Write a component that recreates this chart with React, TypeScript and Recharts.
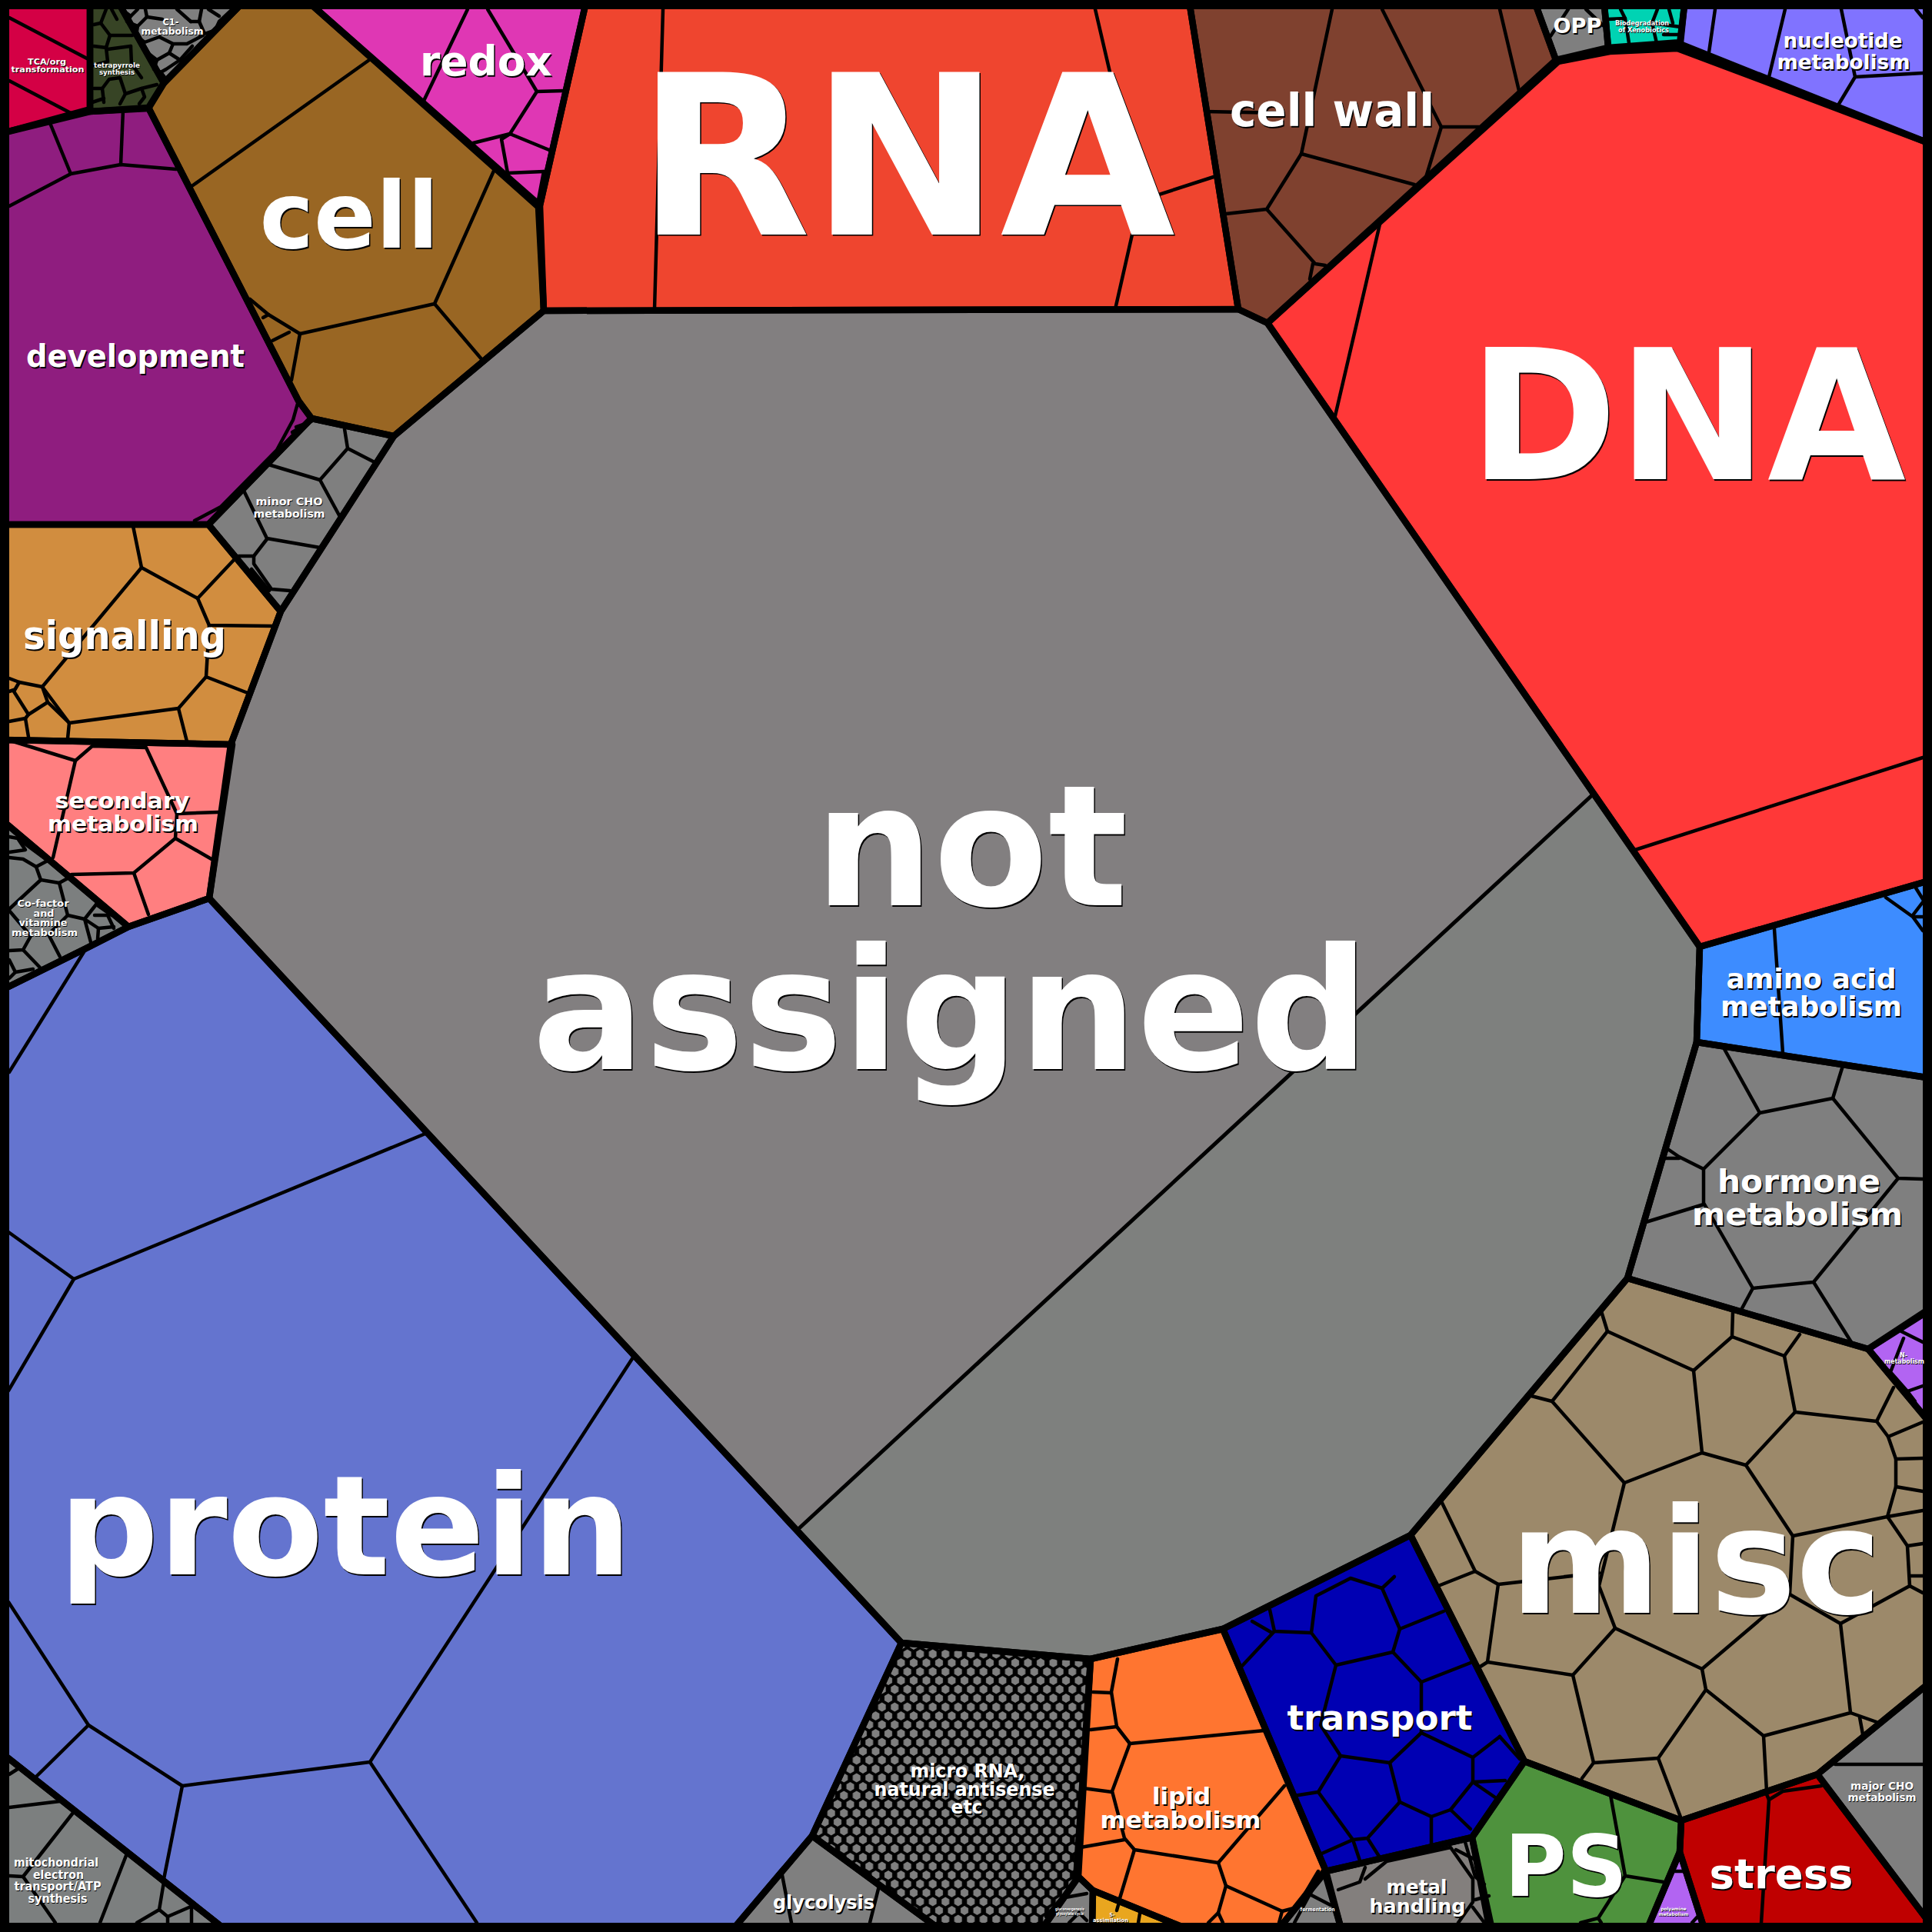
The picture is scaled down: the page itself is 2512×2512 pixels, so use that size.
import { Scatter, ScatterChart, XAxis, YAxis } from "recharts"

const notAssignedCell = [707,404, 1610,402, 1648,420, 2210,1231, 2206,1355, 2116,1662, 1834,1996, 1590,2118, 1418,2157, 1172,2136, 272,1168, 300,968, 365,795, 512,567]
const notAssignedLower = [2071,1033, 2210,1231, 2206,1355, 2116,1662, 1834,1996, 1590,2118, 1418,2157, 1172,2136, 1038,1988]
const notAssignedWalls = [[2071,1033, 1038,1988]]

const proteinCell = [272,1168, 1172,2136, 1056,2387, 956,2500, 288,2500, 12,2283, 12,1285, 112,1233, 167,1205]
const proteinWalls = [
  [553,1474, 96,1663], [96,1663, 11,1602], [96,1663, 11,1808],
  [825,1762, 481,2291, 237,2322, 115,2243, 11,2083],
  [481,2291, 620,2500], [237,2322, 213,2443], [115,2243, 47,2310], [112,1233, 12,1394],
]

const tcaCell = [12,12, 117,12, 117,142, 12,172]
const tcaWalls = [[12,23, 113,76], [12,105, 92,147]]

const tetrapyrroleCell = [117,12, 156,12, 213,108, 193,141, 117,145]
const tetrapyrroleWalls = [
  [138,12, 131,30, 122,32], [145,12, 152,25], [131,30, 143,46, 138,62, 122,60], [143,46, 172,46],
  [138,62, 140,80, 122,85], [170,60, 171,83, 184,101], [140,64, 170,60], [156,101, 142,103, 133,115, 135,133],
  [156,101, 163,122, 184,115, 204,110], [163,122, 156,135], [133,115, 122,115], [184,115, 188,126, 181,135], [135,128, 120,133],
]

const c1Cell = [156,12, 312,12, 213,108]
const c1Walls = [
  [158,12, 170,21, 179,12], [170,21, 165,28, 179,34, 177,46], [179,34, 191,22, 211,25], [191,22, 189,12],
  [177,46, 188,55, 207,48, 225,57, 243,57, 264,46], [225,57, 220,69, 204,78, 186,64], [220,69, 234,78, 250,60],
  [204,78, 200,90, 209,94, 216,103], [234,78, 216,90, 209,94], [248,28, 259,28, 262,12], [230,12, 248,28],
  [259,28, 266,44, 280,39, 285,28, 300,14], [271,12, 285,21],
]

const cellCell = [312,12, 406,12, 700,269, 707,404, 512,567, 405,544, 388,521, 193,140, 213,108]
const cellWalls = [
  [480,78, 248,243], [643,220, 565,395, 390,434, 349,409, 325,389], [565,395, 627,468],
  [390,434, 379,494], [349,409, 342,413], [376,432, 354,443],
]

const developmentCell = [12,172, 117,145, 193,140, 388,521, 405,544, 271,682, 12,682]
const developmentWalls = [
  [388,521, 381,546, 360,585, 287,659, 253,677], [12,268, 92,226, 157,214, 229,220],
  [65,160, 92,226], [157,214, 160,143], [385,555, 405,548], [380,562, 392,555],
]

const signallingCell = [12,682, 271,682, 365,795, 300,968, 12,962]
const signallingWalls = [
  [173,684, 184,738, 257,778], [184,738, 55,893], [305,727, 257,778, 272,813, 355,814], [272,813, 268,880, 322,901],
  [268,880, 232,921, 90,940, 55,893], [232,921, 243,964], [90,940, 88,960], [55,893, 25,887, 12,882],
  [55,893, 62,913, 37,929, 18,899, 25,887], [12,899, 18,897], [37,929, 33,934, 12,938], [33,934, 37,958], [62,913, 90,940],
]

const secondaryCell = [12,962, 302,968, 272,1168, 167,1205, 12,1070]
const secondaryWalls = [
  [17,964, 98,989, 120,970, 190,972, 230,1058, 284,1056], [98,989, 69,1115], [230,1058, 228,1090, 275,1117],
  [228,1090, 174,1135, 93,1137], [174,1135, 193,1189],
]

const cofactorCell = [12,1070, 167,1205, 112,1233, 12,1285]
const cofactorWalls = [
  [12,1115, 30,1117, 47,1127, 53,1144, 12,1182], [53,1144, 77,1148, 88,1142], [77,1148, 88,1190, 110,1195, 125,1176],
  [88,1190, 63,1215, 78,1244], [12,1184, 40,1217, 30,1235, 12,1236], [30,1235, 52,1258], [110,1195, 118,1225],
  [12,1088, 23,1090, 33,1105, 12,1108], [23,1090, 43,1105, 62,1119], [47,1127, 62,1119], [125,1176, 145,1190],
  [123,1190, 140,1190, 148,1207], [128,1207, 127,1221], [113,1197, 128,1207, 148,1205], [12,1248, 20,1264, 12,1272], [20,1264, 43,1260],
]

const minorChoCell = [405,544, 512,567, 365,795, 271,682]
const minorChoWalls = [
  [448,558, 452,583, 416,624, 349,604], [452,583, 487,601], [416,624, 441,670], [317,638, 347,700, 416,712],
  [347,701, 330,723, 310,723], [330,723, 330,733, 353,766, 377,768], [327,740, 350,768],
]

const redoxCell = [406,12, 761,12, 702,267]
const redoxWalls = [
  [608,12, 551,131], [634,12, 698,119, 733,118], [698,119, 663,174, 615,186], [663,174, 652,181, 660,225, 707,223],
  [663,174, 714,195], [707,223, 700,260],
]

const rnaCell = [761,12, 1547,12, 1610,402, 707,404, 702,267]
const rnaWalls = [[862,12, 851,402], [1424,12, 1482,261, 1450,402], [1482,261, 1581,229]]

const cellWallCell = [1547,12, 1997,12, 2023,78, 1648,420, 1610,402]
const cellWallWalls = [
  [1732,12, 1692,200], [1797,12, 1874,165, 1923,165], [1950,12, 1975,118], [1874,165, 1852,237], [1568,145, 1668,147],
  [1692,200, 1839,240], [1692,200, 1647,272, 1594,278], [1647,272, 1710,343, 1723,345], [1707,343, 1703,363],
]

const oppCell = [1997,12, 2086,12, 2091,62, 2023,78]
const oppWalls = [[2039,12, 2016,47], [2062,12, 2084,33]]

const biodegradationCell = [2086,12, 2190,12, 2185,55, 2091,62]
const biodegradationWalls = [
  [2107,12, 2113,24, 2118,56], [2155,12, 2148,30, 2154,56], [2148,30, 2185,35], [2163,45, 2185,45], [2090,25, 2113,24], [2170,12, 2175,30],
]

const nucleotideCell = [2190,12, 2500,12, 2500,185, 2184,57]
const nucleotideWalls = [[2230,12, 2222,68], [2321,12, 2300,100], [2394,12, 2412,100, 2391,135], [2412,100, 2500,95], [2491,12, 2500,23]]

const dnaCell = [1648,420, 2026,80, 2093,67, 2181,63, 2500,185, 2500,1146, 2210,1231]
const dnaWalls = [[1796,283, 1735,545], [2126,1105, 2500,985]]

const aminoCell = [2210,1231, 2500,1146, 2500,1401, 2206,1355]
const aminoWalls = [
  [2307,1208, 2318,1369], [2452,1167, 2487,1192, 2500,1210], [2487,1190, 2500,1173], [2490,1153, 2500,1169], [2490,1192, 2500,1192],
]

const hormoneCell = [2206,1355, 2500,1401, 2500,1704, 2429,1754, 2116,1662]
const hormoneWalls = [
  [2242,1364, 2288,1447, 2383,1428, 2395,1389], [2383,1428, 2468,1532, 2500,1533], [2468,1532, 2358,1667, 2279,1675, 2215,1564, 2215,1520, 2288,1447],
  [2215,1520, 2183,1504, 2167,1493], [2183,1506, 2163,1506], [2215,1566, 2140,1589], [2279,1675, 2265,1701], [2358,1667, 2407,1745],
]

const nMetabolismCell = [2429,1754, 2500,1706, 2500,1845]
const nMetabolismWalls = [[2472,1731, 2500,1745], [2475,1740, 2458,1784, 2480,1809, 2500,1802], [2480,1809, 2490,1822]]

const miscCell = [2116,1662, 2429,1754, 2500,1845, 2500,2191, 2363,2307, 2186,2367, 1982,2290, 1834,1996]
const miscWalls = [
  [2082,1705, 2090,1731, 2202,1782, 2252,1738, 2253,1705], [2252,1738, 2320,1763, 2340,1735], [2320,1763, 2334,1836, 2440,1848, 2462,1804],
  [2090,1731, 2018,1822, 1991,1815], [2018,1822, 2112,1928, 2213,1889, 2270,1905, 2334,1836], [2202,1782, 2213,1889],
  [1873,1950, 1918,2043, 1870,2062], [1918,2043, 1948,2060, 2079,2045], [2112,1928, 2079,2062, 2100,2117], [2270,1905, 2331,1997, 2454,1972],
  [2440,1848, 2455,1868, 2465,1897, 2465,1933, 2454,1972], [2455,1868, 2500,1849], [2465,1897, 2500,1896], [2465,1933, 2500,1939], [2454,1972, 2500,1964],
  [2454,1972, 2480,2010, 2483,2062, 2393,2111, 2327,2073, 2213,2170, 2100,2117], [2480,2010, 2500,2007], [2483,2049, 2500,2049], [2483,2062, 2500,2071],
  [2331,1997, 2327,2073], [2213,2170, 2218,2197, 2293,2257, 2406,2227, 2393,2111], [2406,2227, 2440,2239], [2418,2233, 2422,2255], [2293,2257, 2297,2329],
  [2218,2197, 2156,2286, 2186,2365], [2156,2286, 2072,2292, 2057,2312], [2072,2292, 2045,2178, 2100,2117], [2045,2178, 1934,2161, 1948,2060], [1934,2161, 1923,2168],
]

const majorChoCell = [2363,2307, 2500,2191, 2500,2495]
const majorChoWalls = [[2386,2294, 2500,2294]]

const stressCell = [2186,2367, 2363,2307, 2500,2495, 2500,2500, 2215,2500, 2184,2408]
const stressWalls = [[2300,2340, 2290,2500], [2297,2333, 2300,2340, 2318,2329, 2368,2322]]

const psCell = [1982,2290, 2186,2367, 2184,2408, 2143,2500, 1936,2500, 1914,2389]
const psWalls = [[2094,2334, 2113,2439, 2163,2447], [2113,2439, 2078,2494, 2082,2500], [2078,2494, 2055,2500]]

const polyamineCell = [2184,2408, 2215,2500, 2143,2500]
const polyamineWalls = [[2177,2433, 2189,2433], [2200,2500, 2209,2490]]

const transportCell = [1834,1996, 1982,2290, 1914,2389, 1724,2433, 1590,2118]
const transportWalls = [
  [1651,2093, 1657,2121, 1705,2123, 1711,2075, 1756,2052, 1797,2065, 1820,2118, 1811,2148, 1737,2165, 1705,2123], [1797,2065, 1813,2050],
  [1628,2108, 1654,2123], [1657,2121, 1615,2166], [1820,2118, 1877,2095], [1811,2148, 1848,2187, 1912,2162], [1848,2187, 1848,2253],
  [1737,2165, 1717,2243, 1743,2283, 1807,2292, 1848,2253, 1915,2285, 1950,2258], [1743,2283, 1714,2330, 1682,2335], [1915,2285, 1915,2317, 1957,2315],
  [1915,2317, 1944,2337], [1807,2292, 1820,2343, 1861,2362, 1886,2353, 1915,2317], [1886,2353, 1912,2378], [1861,2362, 1861,2397],
  [1820,2343, 1778,2390, 1759,2392, 1714,2330], [1759,2392, 1714,2412], [1759,2392, 1769,2422], [1778,2390, 1794,2415], [1950,2258, 1976,2287],
]

const metalCell = [1724,2433, 1914,2389, 1939,2500, 1743,2500]
const metalWalls = [
  [1740,2457, 1768,2447, 1775,2428], [1775,2443, 1803,2420, 1886,2402, 1915,2443, 1915,2473, 1896,2500],
  [1905,2395, 1918,2440, 1930,2450], [1918,2470, 1936,2465], [1915,2480, 1930,2500], [1893,2405, 1922,2420],
]

const fermentationCell = [1722,2433, 1743,2500, 1665,2500]
const fermentationWalls = [[1683,2500, 1703,2463, 1730,2477], [1703,2463, 1717,2440]]

const lipidCell = [1418,2157, 1590,2118, 1724,2433, 1665,2500, 1536,2500, 1421,2458, 1402,2440]
const lipidWalls = [
  [1453,2157, 1445,2200, 1452,2245, 1469,2267, 1644,2250], [1421,2200, 1445,2201], [1418,2249, 1452,2245],
  [1469,2267, 1446,2329, 1462,2390, 1475,2405, 1584,2422, 1670,2322], [1408,2325, 1446,2330], [1405,2402, 1462,2392],
  [1475,2405, 1456,2468], [1584,2422, 1594,2452, 1667,2485, 1663,2500], [1594,2452, 1584,2487, 1571,2500], [1584,2487, 1590,2500], [1667,2485, 1686,2480, 1714,2433],
]

const sulfurCell = [1421,2458, 1536,2500, 1420,2500]
const sulfurWalls = [[1482,2488, 1480,2500], [1456,2470, 1452,2484]]

const gluconeoCell = [1402,2440, 1421,2458, 1420,2500, 1357,2500]
const gluconeoWalls = [[1398,2448, 1380,2468, 1413,2462], [1380,2468, 1360,2492], [1390,2500, 1403,2487, 1413,2497]]

const microRnaCell = [1172,2136, 1418,2157, 1399,2445, 1357,2500, 1217,2500, 1056,2387]
const glycolysisCell = [1056,2387, 1217,2500, 956,2500]
const glycolysisWalls = [[1016,2433, 1029,2500], [1143,2452, 1131,2500]]

const mitochondrialCell = [12,2283, 288,2500, 12,2500]
const mitochondrialWalls = [
  [12,2307, 23,2300], [12,2350, 78,2342], [95,2357, 30,2440], [12,2439, 30,2440], [30,2440, 72,2500], [165,2410, 130,2500],
  [213,2447, 207,2483, 178,2500], [207,2483, 218,2492, 248,2479], [218,2492, 218,2500], [249,2479, 249,2500],
]

const frameLine = [6,6, 2506,6, 2506,2506, 6,2506]

// text, centre x, baseline y, measured width, font size
const labelRows: [string, number, number, number, number][] = [
  ["not", 1263, 1177, 407, 220], ["assigned", 1236, 1390, 1088, 220],
  ["RNA", 1178, 305, 700, 290], ["DNA", 2194, 623, 568, 235], ["protein", 449, 2047, 745, 180], ["misc", 2205, 2097, 483, 190],
  ["cell", 454, 322, 233, 120], ["redox", 632, 98, 172, 53], ["development", 176, 477, 284, 40],
  ["TCA/org", 61, 84, 50, 11], ["transformation", 62, 94, 95, 11],
  ["tetrapyrrole", 152, 88, 60, 9], ["synthesis", 152, 97, 46, 9],
  ["C1-", 222, 33, 21, 12], ["metabolism", 224, 45, 81, 12],
  ["minor CHO", 376, 657, 87, 14], ["metabolism", 376, 673, 93, 14],
  ["signalling", 162, 844, 264, 52],
  ["secondary", 159, 1051, 175, 29], ["metabolism", 160, 1081, 196, 29],
  ["Co-factor", 56, 1179, 67, 13], ["and", 57, 1192, 27, 13], ["vitamine", 56, 1204, 63, 13], ["metabolism", 58, 1217, 86, 13],
  ["cell wall", 1732, 164, 266, 58], ["OPP", 2051, 43, 63, 27],
  ["Biodegradation", 2135, 33, 70, 9], ["of Xenobiotics", 2137, 42, 66, 9],
  ["nucleotide", 2396, 62, 155, 26], ["metabolism", 2397, 90, 173, 26],
  ["amino acid", 2355, 1285, 221, 35], ["metabolism", 2355, 1321, 236, 35],
  ["hormone", 2339, 1550, 212, 41], ["metabolism", 2337, 1593, 274, 41],
  ["N-", 2475, 1765, 10, 8], ["metabolism", 2476, 1773, 52, 8],
  ["major CHO", 2447, 2327, 82, 14], ["metabolism", 2447, 2342, 89, 14],
  ["stress", 2316, 2455, 187, 54], ["PS", 2036, 2465, 160, 110],
  ["polyamine", 2176, 2484, 33, 6], ["metabolism", 2176, 2491, 39, 6],
  ["metal", 1842, 2462, 79, 25], ["handling", 1843, 2487, 125, 25],
  ["transport", 1794, 2249, 241, 44],
  ["lipid", 1536, 2346, 76, 31], ["metabolism", 1535, 2377, 209, 31],
  ["micro RNA,", 1258, 2311, 149, 25], ["natural antisense", 1254, 2335, 235, 25], ["etc", 1257, 2358, 41, 25],
  ["glycolysis", 1071, 2482, 132, 25], ["fermentation", 1713, 2485, 45, 7],
  ["gluconeogenesis", 1391, 2484, 38, 5.5], ["glyoxylate cycle", 1391, 2490, 36, 5.5],
  ["S-", 1446, 2492, 7, 7], ["assimilation", 1444, 2499, 46, 7],
  ["mitochondrial", 73, 2427, 110, 16], ["electron", 76, 2443, 66, 16], ["transport/ATP", 75, 2458, 113, 16], ["synthesis", 75, 2474, 77, 16],
]

const GREY = "#7f7f7f"
const groups: { name: string; color: string; cell: number[]; walls: number[][] }[] = [
  { name: "not assigned", color: "#827f80", cell: notAssignedCell, walls: [] },
  { name: "not assigned lower", color: "#7e807e", cell: notAssignedLower, walls: notAssignedWalls },
  { name: "protein", color: "#6474cf", cell: proteinCell, walls: proteinWalls },
  { name: "TCA", color: "#d40045", cell: tcaCell, walls: tcaWalls },
  { name: "tetrapyrrole", color: "#374425", cell: tetrapyrroleCell, walls: tetrapyrroleWalls },
  { name: "C1", color: GREY, cell: c1Cell, walls: c1Walls },
  { name: "cell", color: "#996623", cell: cellCell, walls: cellWalls },
  { name: "development", color: "#8f1d7f", cell: developmentCell, walls: developmentWalls },
  { name: "signalling", color: "#d18d3f", cell: signallingCell, walls: signallingWalls },
  { name: "secondary", color: "#ff7f80", cell: secondaryCell, walls: secondaryWalls },
  { name: "cofactor", color: "#7c7f7f", cell: cofactorCell, walls: cofactorWalls },
  { name: "minor CHO", color: GREY, cell: minorChoCell, walls: minorChoWalls },
  { name: "redox", color: "#df37b4", cell: redoxCell, walls: redoxWalls },
  { name: "RNA", color: "#ef452f", cell: rnaCell, walls: rnaWalls },
  { name: "cell wall", color: "#7f412f", cell: cellWallCell, walls: cellWallWalls },
  { name: "OPP", color: GREY, cell: oppCell, walls: oppWalls },
  { name: "biodegradation", color: "#00d3b3", cell: biodegradationCell, walls: biodegradationWalls },
  { name: "nucleotide", color: "#8073ff", cell: nucleotideCell, walls: nucleotideWalls },
  { name: "DNA", color: "#ff3838", cell: dnaCell, walls: dnaWalls },
  { name: "amino acid", color: "#3d8cff", cell: aminoCell, walls: aminoWalls },
  { name: "hormone", color: GREY, cell: hormoneCell, walls: hormoneWalls },
  { name: "N", color: "#b264f2", cell: nMetabolismCell, walls: nMetabolismWalls },
  { name: "misc", color: "#9c896a", cell: miscCell, walls: miscWalls },
  { name: "major CHO", color: GREY, cell: majorChoCell, walls: majorChoWalls },
  { name: "stress", color: "#bf0000", cell: stressCell, walls: stressWalls },
  { name: "PS", color: "#4e923d", cell: psCell, walls: psWalls },
  { name: "polyamine", color: "#b264f2", cell: polyamineCell, walls: polyamineWalls },
  { name: "transport", color: "#0000b3", cell: transportCell, walls: transportWalls },
  { name: "metal", color: "#837f7d", cell: metalCell, walls: metalWalls },
  { name: "fermentation", color: GREY, cell: fermentationCell, walls: fermentationWalls },
  { name: "lipid", color: "#ff7530", cell: lipidCell, walls: lipidWalls },
  { name: "S", color: "#e9a61f", cell: sulfurCell, walls: sulfurWalls },
  { name: "gluconeogenesis", color: GREY, cell: gluconeoCell, walls: gluconeoWalls },
  { name: "micro RNA", color: "url(#honeycomb)", cell: microRnaCell, walls: [] },
  { name: "glycolysis", color: GREY, cell: glycolysisCell, walls: glycolysisWalls },
  { name: "mitochondrial", color: "#7c7f7f", cell: mitochondrialCell, walls: mitochondrialWalls },
]

const toPoints = (flat: number[]) => {
  const rows = []
  for (let i = 0; i < flat.length; i += 2) rows.push({ x: flat[i], y: flat[i + 1] })
  return rows
}

// outlines that run along the frame are pushed under it, else they thicken the frame
const pushUnderFrame = (v: number) => (v <= 12 ? 7 : v >= 2500 ? 2505 : v)
const toOutlinePoints = (flat: number[]) =>
  toPoints(flat).map((p) => ({ x: pushUnderFrame(p.x), y: pushUnderFrame(p.y) }))

const labelData = labelRows.map(([text, x, y, width, size]) => ({ text, x, y, width, size }))

const NoDot = () => <g />

const joinPoints = (points: any[]) => points.map((p) => `${p.x},${p.y}`).join(" ")

const HEX = "0,-6 5,-3 5,3 0,6 -5,3 -5,-3"

// Scatter hands its scaled points to `line`, so the polygons stay on the axes' scales
const fillLine = (color: string) => (props: any) => (
  <g>
    {color === "url(#honeycomb)" && (
      <defs>
        <pattern id="honeycomb" width={16.5} height={23} patternUnits="userSpaceOnUse">
          <rect width={16.5} height={23} fill="#000" />
          <polygon points={HEX} fill={GREY} transform="translate(0,0)" />
          <polygon points={HEX} fill={GREY} transform="translate(16.5,0)" />
          <polygon points={HEX} fill={GREY} transform="translate(0,23)" />
          <polygon points={HEX} fill={GREY} transform="translate(16.5,23)" />
          <polygon points={HEX} fill={GREY} transform="translate(8.25,11.5)" />
        </pattern>
      </defs>
    )}
    <polygon points={joinPoints(props.points)} fill={color} stroke="none" />
  </g>
)

const wallLine = (width: number) => (props: any) => (
  <polyline points={joinPoints(props.points)} fill="none" stroke="#000" strokeWidth={width} strokeLinejoin="round" strokeLinecap="round" />
)

const outlineLine = (width: number) => (props: any) => (
  <polygon points={joinPoints(props.points)} fill="none" stroke="#000" strokeWidth={width} strokeLinejoin="round" />
)

const LabelMark = (props: any) => {
  const { cx, cy, payload } = props
  const shift = payload.size > 20 ? 1.5 : 0.7
  const common = {
    textAnchor: "middle" as const,
    fontFamily: "DejaVu Sans",
    fontWeight: 700,
    fontSize: payload.size,
    textLength: payload.width,
    lengthAdjust: "spacingAndGlyphs" as const,
  }
  return (
    <g>
      <text x={cx + shift} y={cy + shift} fill="#000" {...common}>{payload.text}</text>
      <text x={cx} y={cy} fill="#fff" {...common}>{payload.text}</text>
    </g>
  )
}

const App = () => {
  return (
    <div style={{ position: "absolute", left: 0, top: 0, width: 2512, height: 2512, background: "#000" }}>
      <ScatterChart width={2512} height={2512} margin={{ top: 0, right: 0, bottom: 0, left: 0 }}>
        <XAxis type="number" dataKey="x" domain={[0, 2512]} hide />
        <YAxis type="number" dataKey="y" domain={[0, 2512]} reversed hide />
        {groups.map((g) => (
          <Scatter key={`fill-${g.name}`} data={toPoints(g.cell)} shape={NoDot} line={fillLine(g.color)} isAnimationActive={false} />
        ))}
        {groups.flatMap((g) =>
          g.walls.map((wall, i) => (
            <Scatter key={`wall-${g.name}-${i}`} data={toPoints(wall)} shape={NoDot} line={wallLine(g.name === "not assigned lower" ? 5 : 4.5)} isAnimationActive={false} />
          ))
        )}
        {groups.filter((g) => g.name !== "not assigned lower").map((g) => (
          <Scatter key={`outline-${g.name}`} data={toOutlinePoints(g.cell)} shape={NoDot} line={outlineLine(8.5)} isAnimationActive={false} />
        ))}
        <Scatter data={toPoints(frameLine)} shape={NoDot} line={outlineLine(12)} isAnimationActive={false} />
        <Scatter data={labelData} shape={LabelMark} isAnimationActive={false} />
      </ScatterChart>
    </div>
  )
}

export default App
